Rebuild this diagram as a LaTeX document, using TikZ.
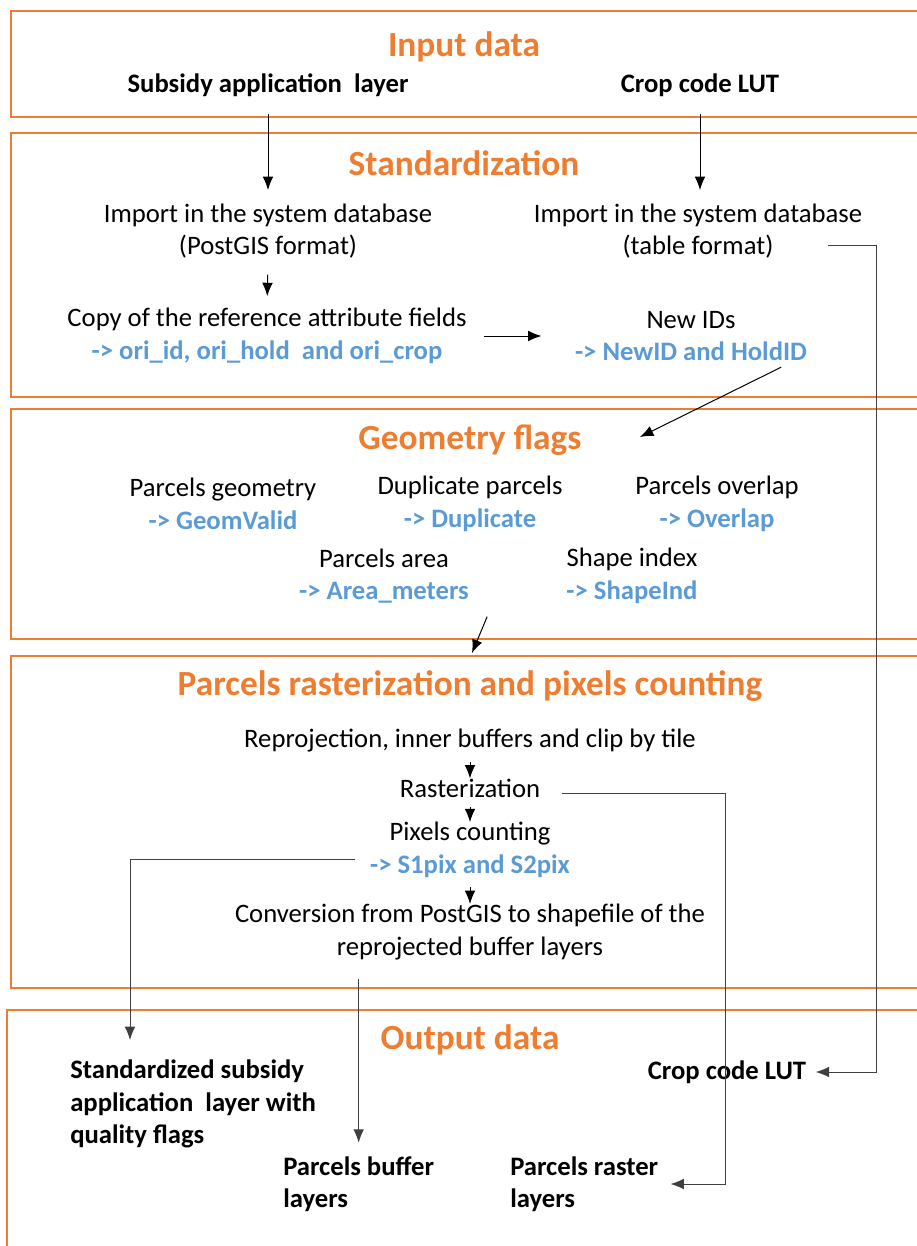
\documentclass[tikz,border=0pt]{standalone}
\usepackage{fontspec}
\setmainfont{Carlito}
\usetikzlibrary{arrows.meta}

\definecolor{flowOrange}{HTML}{ED7D31}
\definecolor{flowBlue}{HTML}{5B9BD5}
\definecolor{flowGray}{HTML}{404040}

\tikzset{
  frame/.style={draw=flowOrange,line width=2.2pt},
  headtxt/.style={text=flowOrange,font=\fontsize{26.5}{30}\selectfont\bfseries,inner sep=0pt},
  txt/.style={font=\fontsize{20}{24.4}\selectfont,align=center,inner sep=0pt},
  boldtxt/.style={txt,font=\fontsize{20}{24.4}\selectfont\bfseries},
  link/.style={-{Latex[length=10pt,width=8pt]},line width=0.75pt},
  longlink/.style={link,draw=flowGray}
}
\newcommand{\flagout}[1]{{\color{flowBlue}\bfseries -> #1}}

\begin{document}
\begin{tikzpicture}[x=0.75pt,y=-0.75pt]
  \useasboundingbox (0,0) rectangle (917,1246);
  \clip (0,0) rectangle (917,1246);

  % frames
  \draw[frame] (11,11) rectangle (940,117);
  \draw[frame] (11,133) rectangle (940,397);
  \draw[frame] (11,409) rectangle (940,639);
  \draw[frame] (11,656) rectangle (940,988);
  \draw[frame] (7,1010) rectangle (940,1270);

  % input data
  \node[headtxt] (inTitle) at (464,47) {Input data};
  \node[boldtxt] (inSub) at (268,85) {Subsidy application~ layer};
  \node[boldtxt] (inLut) at (700,85) {Crop code LUT};

  % standardization
  \node[headtxt] (stdTitle) at (464,163) {Standardization};
  \node[txt] (stdImpA) at (268,231) {Import in the system database\\(PostGIS format)};
  \node[txt] (stdImpB) at (698,231) {Import in the system database\\(table format)};
  \node[txt] (stdCopy) at (267,336) {Copy of the reference attribute fields\\\flagout{ori\_id, ori\_hold~ and ori\_crop}};
  \node[txt] (stdNew) at (691,336) {New IDs\\\flagout{NewID and HoldID}};

  % geometry flags
  \node[headtxt] (geoTitle) at (470,440) {Geometry flags};
  \node[txt] (geoGeom) at (223,504) {Parcels geometry\\\flagout{GeomValid}};
  \node[txt] (geoDup) at (470,504) {Duplicate parcels\\\flagout{Duplicate}};
  \node[txt] (geoOver) at (717,504) {Parcels overlap\\\flagout{Overlap}};
  \node[txt] (geoArea) at (384,576) {Parcels area\\\flagout{Area\_meters}};
  \node[txt] (geoShape) at (632,576) {Shape index\\\flagout{ShapeInd}};

  % rasterization
  \node[headtxt] (rasTitle) at (470,686) {Parcels rasterization and pixels counting};
  \node[txt] (rasReproj) at (470,741) {Reprojection, inner buffers and clip by tile};
  \node[txt] (rasRaster) at (470,788) {Rasterization};
  \node[txt] (rasPix) at (470,850) {Pixels counting\\\flagout{S1pix and S2pix}};
  \node[txt] (rasConv) at (470,932) {Conversion from PostGIS to shapefile of the\\reprojected buffer layers};

  % output data
  \node[headtxt] (outTitle) at (470,1040) {Output data};
  \node[boldtxt,align=left,anchor=west] (outStd) at (70,1104) {Standardized subsidy\\application~ layer with\\quality flags};
  \node[boldtxt] (outLut) at (727,1072) {Crop code LUT};
  \node[boldtxt,align=left,anchor=west] (outBuf) at (283,1184) {Parcels buffer\\layers};
  \node[boldtxt,align=left,anchor=west] (outRas) at (510,1184) {Parcels raster\\layers};

  \coordinate (geoIn) at (640,437);
  \coordinate (rasIn) at (472,653);
  \coordinate (outStdIn) at (130,1040);
  \coordinate (rasBend) at (725,0);
  \coordinate (lutBend) at (876,0);

  % connectors
  \draw[link,shorten <=13pt,shorten >=10pt] (inSub.south) -- (stdImpA.north);
  \draw[link,shorten <=13pt,shorten >=10pt] (inLut.south) -- (inLut.south |- stdImpB.north);
  \draw[link,shorten <=12pt,shorten >=9pt] (stdImpA.south) -- (stdCopy.north);
  \draw[link,shorten <=13pt,shorten >=25pt] (stdCopy.east) -- (stdNew.west);
  \draw[link] (stdNew.south east) ++(-26,6) -- (geoIn);
  \draw[link] (geoArea.south east) ++(18,13) -- (rasIn);
  \draw[link,shorten <=7pt] (rasReproj.south) -- (rasRaster.north);
  \draw[link,shorten <=7pt] (rasRaster.south) -- (rasPix.north);
  \draw[link,shorten <=7pt] (rasPix.south) -- (rasConv.north);
  \draw[longlink,shorten <=11pt] (rasPix.west) ++(0,9) -| (outStdIn);
  \draw[longlink,shorten <=14pt,shorten >=10pt] (rasConv.south -| outBuf.north) -- (outBuf.north);
  \draw[longlink,shorten <=16pt,shorten >=9pt] (rasRaster.east) ++(0,5) -| (rasBend |- outRas.east) -- (outRas.east);
  \draw[longlink,shorten >=7pt] (stdImpB.east) ++(-34,14) -| (lutBend |- outLut.east) -- (outLut.east);
\end{tikzpicture}
\end{document}
